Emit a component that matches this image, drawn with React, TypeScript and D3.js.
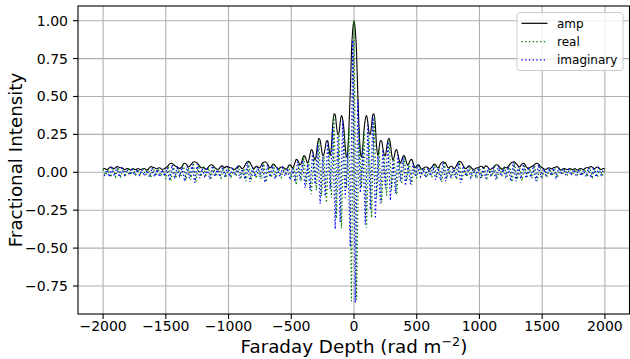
import React from 'react';
import * as d3 from 'd3';

// amplitude of the RMSF for phi = 0, 10, ..., 2000 (curve is symmetric about 0)
const AMP_POS = [
  1.0, 0.94, 0.8, 0.52, 0.3, 0.14, 0.1, 0.17, 0.28, 0.35,
  0.375, 0.33, 0.26, 0.25, 0.31, 0.38, 0.385, 0.31, 0.17, 0.11,
  0.16, 0.21, 0.205, 0.16, 0.12, 0.11, 0.16, 0.21, 0.225, 0.19,
  0.12, 0.08, 0.1, 0.14, 0.15, 0.12, 0.08, 0.06, 0.08, 0.105,
  0.11, 0.09, 0.06, 0.05, 0.065, 0.08, 0.085, 0.065, 0.04, 0.03,
  0.04, 0.05, 0.045, 0.03, 0.02, 0.025, 0.03, 0.035, 0.035, 0.03,
  0.02, 0.025, 0.035, 0.045, 0.055, 0.05, 0.035, 0.03, 0.04, 0.055,
  0.065, 0.07, 0.065, 0.06, 0.045, 0.03, 0.03, 0.04, 0.04, 0.03,
  0.025, 0.035, 0.05, 0.065, 0.072, 0.07, 0.06, 0.045, 0.03, 0.025,
  0.03, 0.04, 0.042, 0.035, 0.025, 0.02, 0.02, 0.025, 0.03, 0.03,
  0.035, 0.04, 0.038, 0.03, 0.035, 0.042, 0.04, 0.03, 0.02, 0.02,
  0.025, 0.03, 0.04, 0.048, 0.05, 0.045, 0.035, 0.025, 0.02, 0.025,
  0.035, 0.03, 0.03, 0.04, 0.05, 0.06, 0.066, 0.07, 0.068, 0.06,
  0.05, 0.04, 0.035, 0.045, 0.055, 0.06, 0.055, 0.04, 0.03, 0.025,
  0.03, 0.035, 0.04, 0.045, 0.052, 0.058, 0.06, 0.055, 0.045, 0.035,
  0.03, 0.025, 0.02, 0.02, 0.025, 0.03, 0.028, 0.022, 0.025, 0.03,
  0.032, 0.035, 0.038, 0.03, 0.02, 0.015, 0.018, 0.025, 0.025, 0.02,
  0.018, 0.02, 0.025, 0.022, 0.018, 0.02, 0.025, 0.02, 0.015, 0.018,
  0.025, 0.025, 0.02, 0.018, 0.025, 0.03, 0.03, 0.032, 0.036, 0.038,
  0.032, 0.025, 0.025, 0.032, 0.035, 0.03, 0.022, 0.018, 0.022, 0.025,
  0.02,
];

// real part for phi = -2000, -1980, ..., 2000
const REAL = [
  0.018, -0.02, 0.019, -0.033, 0.022, -0.03, 0.031, -0.028, 0.021, -0.019,
  0.022, -0.015, 0.02, -0.018, 0.021, -0.017, 0.022, -0.018, 0.017, -0.036,
  0.027, -0.024, 0.024, -0.024, 0.017, -0.045, 0.04, -0.058, 0.046, -0.038,
  0.026, -0.03, 0.05, -0.053, 0.03, -0.048, 0.062, -0.064, 0.045, -0.03,
  0.03, -0.02, 0.03, -0.048, 0.035, -0.025, 0.018, -0.038, 0.03, -0.036,
  0.03, -0.03, 0.017, -0.024, 0.036, -0.03, 0.026, -0.058, 0.065, -0.05,
  0.022, -0.04, 0.026, -0.044, 0.058, -0.064, 0.035, -0.035, 0.05, -0.034,
  0.018, -0.034, 0.026, -0.02, 0.04, -0.04, 0.036, -0.083, 0.058, -0.058,
  0.1, -0.078, 0.07, -0.145, 0.09, -0.118, 0.21, -0.158, 0.11, -0.2,
  0.15, -0.168, 0.37, -0.305, 0.25, -0.37, 0.27, -0.1, 0.29, -0.85,
  1.0,
  -0.84, 0.28, -0.1, 0.26, -0.365, 0.245, -0.3, 0.36, -0.165, 0.15,
  -0.2, 0.11, -0.155, 0.21, -0.115, 0.09, -0.148, 0.072, -0.077, 0.1,
  -0.057, 0.06, -0.082, 0.035, -0.038, 0.04, -0.02, 0.027, -0.034, 0.018,
  -0.034, 0.05, -0.034, 0.036, -0.063, 0.06, -0.043, 0.027, -0.04, 0.022,
  -0.049, 0.066, -0.058, 0.027, -0.03, 0.037, -0.024, 0.018, -0.03, 0.031,
  -0.037, 0.03, -0.039, 0.018, -0.025, 0.036, -0.049, 0.031, -0.02, 0.031,
  -0.03, 0.045, -0.065, 0.062, -0.049, 0.031, -0.054, 0.05, -0.03, 0.027,
  -0.039, 0.047, -0.059, 0.04, -0.03, 0.018, -0.025, 0.025, -0.025, 0.028,
  -0.037, 0.018, -0.018, 0.022, -0.018, 0.022, -0.018, 0.022, -0.015, 0.022,
  -0.02, 0.022, -0.03, 0.032, -0.032, 0.022, -0.034, 0.02, -0.022, 0.018,
];

// imaginary part for phi = -1990, -1970, ..., 1990
const IMAG = [
  -0.024, 0.016, -0.03, 0.028, -0.025, 0.033, -0.032, 0.026, -0.018, 0.021,
  -0.018, 0.017, -0.02, 0.019, -0.02, 0.017, -0.025, 0.013, -0.03, 0.03,
  -0.03, 0.019, -0.03, 0.017, -0.025, 0.03, -0.055, 0.05, -0.045, 0.03,
  -0.025, 0.035, -0.06, 0.04, -0.04, 0.053, -0.068, 0.053, -0.04, 0.026,
  -0.025, 0.022, -0.045, 0.042, -0.03, 0.017, -0.03, 0.037, -0.03, 0.035,
  -0.03, 0.022, -0.02, 0.03, -0.04, 0.022, -0.045, 0.062, -0.064, 0.03,
  -0.03, 0.035, -0.03, 0.053, -0.068, 0.048, -0.03, 0.044, -0.045, 0.022,
  -0.03, 0.03, -0.025, 0.026, -0.05, 0.026, -0.064, 0.072, -0.05, 0.08,
  -0.104, 0.054, -0.118, 0.13, -0.08, 0.18, -0.208, 0.1, -0.158, 0.2,
  -0.11, 0.3, -0.375, 0.24, -0.328, 0.34, -0.168, 0.13, -0.49, 0.87,
  -0.86, 0.48, -0.135, 0.16, -0.345, 0.32, -0.245, 0.37, -0.305, 0.105,
  -0.205, 0.15, -0.105, 0.2, -0.185, 0.075, -0.137, 0.115, -0.058, 0.1,
  -0.088, 0.047, -0.078, 0.06, -0.029, 0.047, -0.029, 0.023, -0.034, 0.028,
  -0.024, 0.042, -0.049, 0.028, -0.054, 0.066, -0.059, 0.028, -0.039, 0.028,
  -0.034, 0.06, -0.069, 0.042, -0.024, 0.037, -0.034, 0.018, -0.024, 0.028,
  -0.039, 0.028, -0.041, 0.028, -0.02, 0.028, -0.047, 0.042, -0.024, 0.023,
  -0.029, 0.037, -0.059, 0.066, -0.059, 0.037, -0.044, 0.056, -0.039, 0.023,
  -0.034, 0.042, -0.057, 0.051, -0.034, 0.023, -0.02, 0.028, -0.021, 0.028,
  -0.034, 0.028, -0.015, 0.023, -0.02, 0.018, -0.021, 0.018, -0.02, 0.016,
  -0.024, 0.016, -0.029, 0.03, -0.037, 0.023, -0.031, 0.028, -0.018, 0.023,
];

const X_TICKS = [-2000, -1500, -1000, -500, 0, 500, 1000, 1500, 2000];
const Y_TICKS = [-0.75, -0.5, -0.25, 0, 0.25, 0.5, 0.75, 1.0];
const LEGEND = ['amp', 'real', 'imaginary'];

const FONT = 'DejaVu Sans, Liberation Sans, sans-serif';

export default function App() {
  const L = 78, R = 630, T = 6, B = 314;
  const x = d3.scaleLinear().domain([-2200, 2200]).range([L, R]);
  const y = d3.scaleLinear().domain([-0.9347, 1.0968]).range([B, T]);

  const ampData: [number, number][] = [
    ...AMP_POS.slice(1).map((v, i) => [-(i + 1) * 10, v] as [number, number]).reverse(),
    ...AMP_POS.map((v, i) => [i * 10, v] as [number, number]),
  ];
  const realData: [number, number][] = REAL.map((v, i) => [-2000 + 20 * i, v]);
  const imagData: [number, number][] = IMAG.map((v, i) => [-1990 + 20 * i, v]);

  const smooth = d3.line<[number, number]>().x(d => x(d[0])).y(d => y(d[1])).curve(d3.curveMonotoneX);
  const straight = d3.line<[number, number]>().x(d => x(d[0])).y(d => y(d[1]));

  const fmt = (v: number, dec: number) => (v < 0 ? '\u2212' : '') + Math.abs(v).toFixed(dec);

  const legendStyles = [
    { stroke: '#000000', dash: undefined as string | undefined },
    { stroke: '#008000', dash: '1.4,2.3' },
    { stroke: '#0000ff', dash: '1.4,2.3' },
  ];

  return (
    <svg width={630} height={359} style={{ position: 'absolute', left: 0, top: 0, background: '#fff' }} fontFamily={FONT}>
      <defs>
        <clipPath id="plotclip">
          <rect x={L} y={T} width={R - L} height={B - T} />
        </clipPath>
      </defs>
      <rect x={0} y={0} width={630} height={359} fill="#fff" />
      {/* grid */}
      {X_TICKS.map(t => (
        <line key={'gx' + t} x1={x(t)} x2={x(t)} y1={T} y2={B} stroke="#b0b0b0" strokeWidth={1.1} />
      ))}
      {Y_TICKS.map(t => (
        <line key={'gy' + t} x1={L} x2={R} y1={y(t)} y2={y(t)} stroke="#b0b0b0" strokeWidth={1.1} />
      ))}
      {/* data */}
      <g clipPath="url(#plotclip)">
        <path d={smooth(ampData) || ''} fill="none" stroke="#000" strokeWidth={1.1} />
        <path d={straight(realData) || ''} fill="none" stroke="#008000" strokeWidth={1.2} strokeDasharray="1.4,2.3" />
        <path d={straight(imagData) || ''} fill="none" stroke="#0000ff" strokeWidth={1.2} strokeDasharray="1.4,2.3" />
      </g>
      {/* spines */}
      <rect x={L} y={T} width={R - L - 0.5} height={B - T} fill="none" stroke="#000" strokeWidth={1.1} />
      {/* x ticks */}
      {X_TICKS.map(t => (
        <g key={'xt' + t}>
          <line x1={x(t)} x2={x(t)} y1={B} y2={B + 5} stroke="#000" strokeWidth={1.1} />
          <text x={x(t)} y={331} fontSize={14} textAnchor="middle" fill="#000">{fmt(t, 0)}</text>
        </g>
      ))}
      {/* y ticks */}
      {Y_TICKS.map(t => (
        <g key={'yt' + t}>
          <line x1={L - 5} x2={L} y1={y(t)} y2={y(t)} stroke="#000" strokeWidth={1.1} />
          <text x={68} y={y(t) + 5} fontSize={14} textAnchor="end" fill="#000">{fmt(t, 2)}</text>
        </g>
      ))}
      {/* axis labels */}
      <text x={354} y={353} fontSize={18.3} textAnchor="middle" fill="#000">
        Faraday Depth (rad m<tspan dy={-7} fontSize={12.8}>{'\u22122'}</tspan><tspan dy={7}>)</tspan>
      </text>
      <text transform="translate(22,160) rotate(-90)" fontSize={18.3} textAnchor="middle" fill="#000">Fractional Intensity</text>
      {/* legend */}
      <rect x={517} y={12.5} width={106} height={58} rx={3} fill="#fff" fillOpacity={0.8} stroke="#cccccc" strokeWidth={1} />
      {LEGEND.map((name, i) => {
        const cy = 23.3 + i * 18.3;
        const st = legendStyles[i];
        return (
          <g key={name}>
            <line x1={521.5} x2={547.5} y1={cy} y2={cy} stroke={st.stroke} strokeWidth={1.2} strokeDasharray={st.dash} />
            <text x={557} y={cy + 4.3} fontSize={12} fill="#000">{name}</text>
          </g>
        );
      })}
    </svg>
  );
}
